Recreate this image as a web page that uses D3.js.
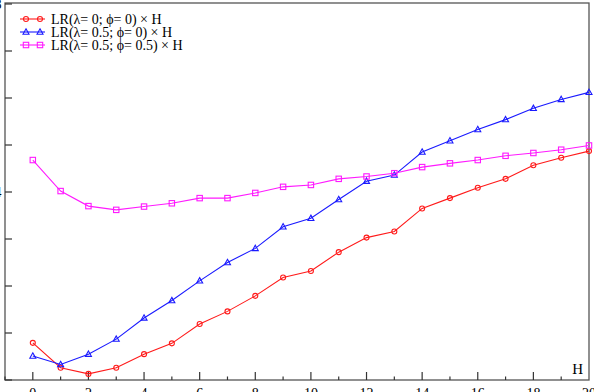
<!DOCTYPE html>
<html>
<head>
<meta charset="utf-8">
<script src="https://cdn.jsdelivr.net/npm/d3@7"></script>
<style>
  body { margin: 0; background: #fff; }
  svg { display: block; font-family: "Liberation Serif", "Times New Roman", serif; }
</style>
</head>
<body>
<div id="chart"></div>
<script>
// values
var H = d3.range(0, 21);
var lr00   = [0.79, 0.26, 0.13, 0.26, 0.55, 0.78, 1.19, 1.46, 1.79, 2.18, 2.32, 2.72, 3.03, 3.16, 3.65, 3.87, 4.09, 4.28, 4.57, 4.73, 4.87];
var lr050  = [0.51, 0.33, 0.55, 0.87, 1.32, 1.69, 2.11, 2.50, 2.80, 3.26, 3.44, 3.84, 4.23, 4.36, 4.85, 5.09, 5.33, 5.54, 5.78, 5.97, 6.12];
var lr0505 = [4.68, 4.02, 3.70, 3.62, 3.69, 3.76, 3.87, 3.87, 3.98, 4.11, 4.15, 4.28, 4.33, 4.40, 4.53, 4.61, 4.68, 4.77, 4.83, 4.90, 4.99];
var seriesNames = ["LR(\u03bb= 0; \u03d5= 0) \u00d7 H", "LR(\u03bb= 0.5; \u03d5= 0) \u00d7 H", "LR(\u03bb= 0.5; \u03d5= 0.5) \u00d7 H"];
var xTicks = d3.range(0, 21, 2);
var yTicks = d3.range(0, 9);
var yLabels = [4, 8];   // only a sliver of these shows at the left edge

var width = 594, height = 392;
var mLeft = 5, mRight = 589, mTop = 3, mBottom = 380;

var svg = d3.select("#chart").append("svg").attr("width", width).attr("height", height);

var x = d3.scaleLinear().domain([-1, 20]).range([mLeft, mRight]);
var y = d3.scaleLinear().domain([0, (mBottom - mTop) / 47]).range([mBottom, mTop]);

// frame
svg.append("rect").attr("x", mLeft).attr("y", mTop).attr("width", mRight - mLeft).attr("height", mBottom - mTop)
   .attr("fill", "none").attr("stroke", "#555").attr("stroke-width", 1.3);

// x axis ticks (inward), major at even, minor at odd
var xa = svg.append("g").attr("transform", "translate(0," + mBottom + ")");
xa.selectAll("line").data(d3.range(-1, 20)).join("line")
  .attr("x1", d => x(d)).attr("x2", d => x(d))
  .attr("y1", 0).attr("y2", d => d % 2 === 0 ? -8 : -3.5)
  .attr("stroke", "#333").attr("stroke-width", 1.2);
xa.selectAll("text").data(xTicks).join("text")
  .attr("x", d => x(d)).attr("y", 18)
  .attr("text-anchor", "middle").attr("font-size", 14).attr("fill", "#000")
  .text(d => d);

// y axis ticks
var ya = svg.append("g").attr("transform", "translate(" + mLeft + ",0)");
ya.selectAll("line").data(yTicks).join("line")
  .attr("x1", 0).attr("x2", 7)
  .attr("y1", d => y(d)).attr("y2", d => y(d))
  .attr("stroke", "#333").attr("stroke-width", 1.2);
ya.selectAll("text").data(yLabels).join("text")
  .attr("x", -3.5).attr("y", d => y(d) + 4.5)
  .attr("text-anchor", "end").attr("font-size", 14).text(d => d);

// H label
svg.append("text").attr("x", 583).attr("y", 374).attr("text-anchor", "end")
   .attr("font-size", 15).text("H");

var series = [
  {name: seriesNames[0], values: lr00,   color: "#ff1a1a", marker: "circle"},
  {name: seriesNames[1], values: lr050,  color: "#1a1aff", marker: "triangle"},
  {name: seriesNames[2], values: lr0505, color: "#ff1aff", marker: "square"}
];

function drawMarker(g, type, color) {
  if (type === "circle") {
    g.append("circle").attr("r", 2.5).attr("fill", "none").attr("stroke", color).attr("stroke-width", 1.1);
  } else if (type === "triangle") {
    g.append("path").attr("d", "M0,-3.2L3,2.2L-3,2.2Z").attr("fill", "none").attr("stroke", color).attr("stroke-width", 1.1);
  } else {
    g.append("rect").attr("x", -2.7).attr("y", -2.7).attr("width", 5.4).attr("height", 5.4)
     .attr("fill", "none").attr("stroke", color).attr("stroke-width", 1.1);
  }
}

var line = d3.line().x((d, i) => x(H[i])).y(d => y(d));

series.forEach(function (s) {
  svg.append("path").datum(s.values).attr("d", line)
     .attr("fill", "none").attr("stroke", s.color).attr("stroke-width", 1.1);
  svg.append("g").selectAll("g").data(s.values).join("g")
     .attr("transform", (d, i) => "translate(" + x(H[i]) + "," + y(d) + ")")
     .each(function () { drawMarker(d3.select(this), s.marker, s.color); });
});

// legend
var lg = svg.append("g").attr("transform", "translate(20,19)");
series.forEach(function (s, i) {
  var row = lg.append("g").attr("transform", "translate(0," + (i * 13) + ")");
  row.append("line").attr("x1", 0).attr("x2", 25).attr("stroke", s.color).attr("stroke-width", 1.1);
  [6, 20].forEach(function (mx) {
    drawMarker(row.append("g").attr("transform", "translate(" + mx + ",0)"), s.marker, s.color);
  });
  row.append("text").attr("x", 31).attr("y", 4.5).attr("font-size", 14).text(s.name);
});
</script>
</body>
</html>
